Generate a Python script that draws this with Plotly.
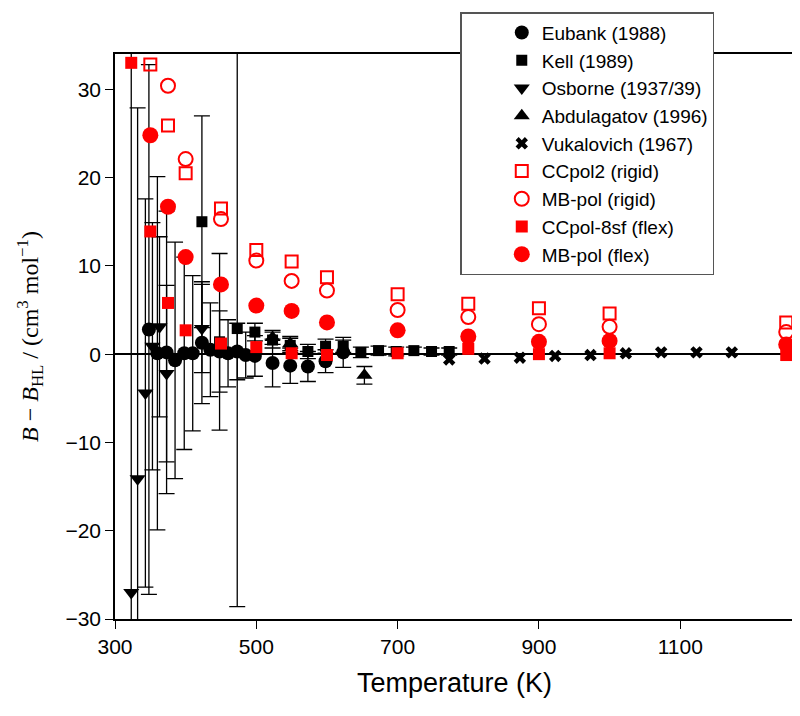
import plotly.graph_objects as go

# experimental data: temperature (K), B - B_HL (cm3/mol), uncertainty
eubank_T = [348, 360, 373, 385, 398, 410, 423, 435, 448, 460, 473, 485, 498, 523, 548, 573, 598, 623]
eubank_B = [2.8, 0.1, 0.2, -0.7, 0.1, 0.1, 1.3, 0.5, 0.3, 0.1, 0.3, -0.1, -0.2, -1.0, -1.3, -1.4, -0.8, 0.2]
eubank_err = [30, 20, 16, 13.4, 10.9, 8.8, 6.9, 5.3, 4.6, 3.8, 3.2, 2.6, 2.3, 2.7, 2.0, 1.7, 1.3, 1.7]

kell_T = [423, 448, 473, 498, 523, 548, 573, 598, 623, 648, 673, 698, 723, 748, 773]
kell_B = [15.0, 1.4, 2.9, 2.5, 1.6, 1.0, 0.3, 0.9, 0.9, 0.2, 0.4, 0.3, 0.4, 0.3, 0.3]
kell_err = [12, 10, 31.5, 1.0, 0.9, 0.8, 0.8, 0.8, 0.7, 0.6, 0.5, 0.5, 0.4, 0.4, 0.4]

osborne_T = [323, 332, 343, 353, 363, 373, 423]
osborne_B = [-27.0, -14.1, -4.4, 0.9, 3.1, -2.2, 2.9]
osborne_err = [65, 42, 22, 14, 10.2, 10, 5]

abdul_T = [523, 548, 653]
abdul_B = [1.9, 1.2, -2.4]
abdul_err = [0.8, 0.8, 1.0]

vuk_T = [773, 823, 873, 923, 973, 1023, 1073, 1123, 1173]
vuk_B = [-0.6, -0.5, -0.4, -0.2, -0.1, 0.1, 0.2, 0.2, 0.2]

# calculations
ccpol2_T = [350, 375, 400, 450, 500, 550, 600, 700, 800, 900, 1000, 1250]
ccpol2_B = [32.8, 25.9, 20.5, 16.5, 11.8, 10.5, 8.7, 6.8, 5.7, 5.2, 4.6, 3.6]

mbrig_T = [375, 400, 450, 500, 550, 600, 700, 800, 900, 1000, 1250]
mbrig_B = [30.4, 22.1, 15.3, 10.6, 8.3, 7.2, 5.0, 4.2, 3.4, 3.1, 2.5]

ccflex_T = [323, 350, 375, 400, 450, 500, 550, 600, 700, 800, 900, 1000, 1250]
ccflex_B = [33.0, 13.9, 5.8, 2.7, 1.2, 0.8, 0.1, -0.1, 0.1, 0.6, 0.0, 0.1, -0.1]

mbflex_T = [350, 375, 400, 450, 500, 550, 600, 700, 800, 900, 1000, 1250]
mbflex_B = [24.8, 16.7, 11.0, 7.9, 5.5, 4.9, 3.6, 2.7, 2.0, 1.4, 1.5, 1.1]

RED = '#ff0000'


def err(arr):
    return dict(type='data', array=arr, color='black', thickness=1.3, width=8)


fig = go.Figure()

fig.add_trace(go.Scatter(x=eubank_T, y=eubank_B, error_y=err(eubank_err), mode='markers',
                         name='Eubank (1988)',
                         marker=dict(symbol='circle', size=14, color='black')))
fig.add_trace(go.Scatter(x=kell_T, y=kell_B, error_y=err(kell_err), mode='markers',
                         name='Kell (1989)',
                         marker=dict(symbol='square', size=11, color='black')))
fig.add_trace(go.Scatter(x=osborne_T, y=osborne_B, error_y=err(osborne_err), mode='markers',
                         name='Osborne (1937/39)',
                         marker=dict(symbol='triangle-down', size=14, color='black')))
fig.add_trace(go.Scatter(x=abdul_T, y=abdul_B, error_y=err(abdul_err), mode='markers',
                         name='Abdulagatov (1996)',
                         marker=dict(symbol='triangle-up', size=14, color='black')))
fig.add_trace(go.Scatter(x=vuk_T, y=vuk_B, mode='markers',
                         name='Vukalovich (1967)',
                         marker=dict(symbol='x', size=11, color='black')))

fig.add_trace(go.Scatter(x=ccpol2_T, y=ccpol2_B, mode='markers',
                         name='CCpol2 (rigid)',
                         marker=dict(symbol='square-open', size=12, color=RED,
                                     line=dict(width=2, color=RED))))
fig.add_trace(go.Scatter(x=mbrig_T, y=mbrig_B, mode='markers',
                         name='MB-pol (rigid)',
                         marker=dict(symbol='circle-open', size=14, color=RED,
                                     line=dict(width=2, color=RED))))
fig.add_trace(go.Scatter(x=ccflex_T, y=ccflex_B, mode='markers',
                         name='CCpol-8sf (flex)',
                         marker=dict(symbol='square', size=12, color=RED)))
fig.add_trace(go.Scatter(x=mbflex_T, y=mbflex_B, mode='markers',
                         name='MB-pol (flex)',
                         marker=dict(symbol='circle', size=16, color=RED)))

axis_style = dict(showline=True, linecolor='black', linewidth=1.5, mirror=True,
                  ticks='outside', ticklen=8, tickwidth=1.3, tickcolor='black',
                  showgrid=False, tickfont=dict(family='Liberation Sans, Arial', size=21, color='black'))

fig.update_xaxes(range=[300, 1261], tickvals=[300, 500, 700, 900, 1100], zeroline=False,
                 title=dict(text='Temperature (K)', font=dict(family='Liberation Sans, Arial', size=27, color='black'),
                            standoff=16),
                 **axis_style)
fig.update_yaxes(range=[-30, 34], tickvals=[-30, -20, -10, 0, 10, 20, 30],
                 zeroline=True, zerolinecolor='black', zerolinewidth=1.5,
                 title=dict(text='<i>B</i> \u2212 <i>B</i><sub>HL</sub> / (cm<sup>3</sup> mol<sup>\u22121</sup>)',
                            font=dict(family='Liberation Serif, Times New Roman', size=24, color='black'),
                            standoff=20),
                 **axis_style)

# page has an 8px body margin, so the figure is a bit smaller than the window
fig.update_layout(
    width=792, height=708,
    margin=dict(l=107, r=4, t=46, b=97),
    paper_bgcolor='white', plot_bgcolor='white',
    showlegend=True,
    legend=dict(x=0.5085, y=1.074, xanchor='left', yanchor='top',
                bgcolor='white', bordercolor='#555555', borderwidth=1.5,
                font=dict(family='Liberation Sans, Arial', size=19, color='black'),
                indentation=40, itemsizing='trace'),
)

fig.write_html("out.html")
